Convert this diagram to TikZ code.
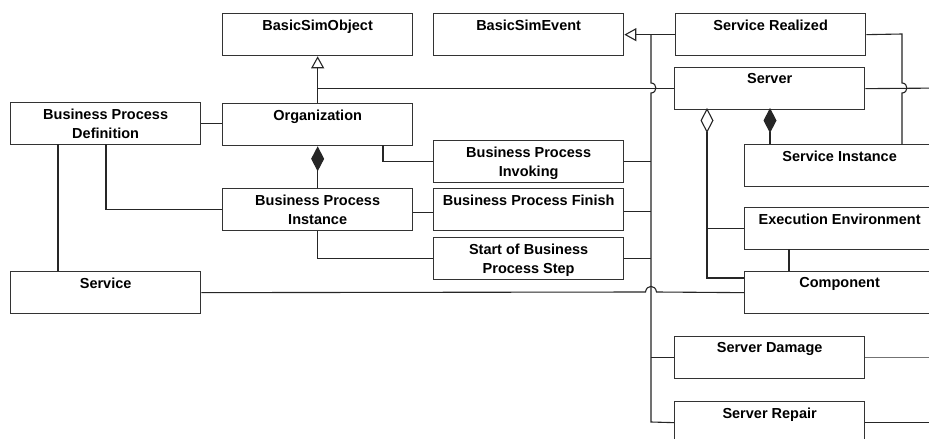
\documentclass[tikz,border=0pt]{standalone}
\usepackage{fontspec}
\setmainfont{Liberation Sans}
\usetikzlibrary{arrows.meta}
\begin{document}
\begin{tikzpicture}[x=1pt,y=-1pt,
 cls/.style={draw=black!80, line width=1.3pt, minimum width=190pt, minimum height=42pt, inner sep=0pt, anchor=north west, fill=white},
 lbl/.style={anchor=north, inner sep=0pt, align=center, font=\bfseries\fontsize{14.5}{19.5}\selectfont},
 conn/.style={draw=black!85, line width=1.1pt},
 gen/.style={conn, -{Triangle[open, length=12pt, width=13pt, fill=white]}},
 comp/.style={conn, {Diamond[length=25pt, width=13pt]}-},
 aggr/.style={conn, {Diamond[open, length=25pt, width=13pt, fill=white]}-}]
\useasboundingbox (0,0) rectangle (929,439);
\clip (0,0) rectangle (929,439);
\fill[white] (0,0) rectangle (929,439);
% classes
\node[cls] (bso) at (222,13) {};
\node[cls] (bse) at (433,13) {};
\node[cls] (sr) at (675,13) {};
\node[cls] (server) at (674,67) {};
\node[cls] (bpd) at (10,102) {};
\node[cls] (org) at (222,103) {};
\node[cls] (bpinv) at (433,140) {};
\node[cls] (si) at (744,144) {};
\node[cls] (bpi) at (222,188) {};
\node[cls] (bpfin) at (433,188) {};
\node[cls] (sbps) at (433,237) {};
\node[cls] (ee) at (744,207) {};
\node[cls] (service) at (10,271) {};
\node[cls] (comp) at (744,271) {};
\node[cls] (sd) at (674,336) {};
\node[cls] (srep) at (674,401) {};
% labels
\node[lbl] (lbso) at ([yshift=-6.5pt]bso.north) {BasicSimObject};
\node[lbl] (lbse) at ([yshift=-6.5pt]bse.north) {BasicSimEvent};
\node[lbl] (lsr) at ([yshift=-6.5pt]sr.north) {Service Realized};
\node[lbl] (lserver) at ([yshift=-6.5pt]server.north) {Server};
\node[lbl] (lbpd) at ([yshift=-6.5pt]bpd.north) {Business Process\\Definition};
\node[lbl] (lorg) at ([yshift=-6.5pt]org.north) {Organization};
\node[lbl] (lbpinv) at ([yshift=-6.5pt]bpinv.north) {Business Process\\Invoking};
\node[lbl] (lsi) at ([yshift=-6.5pt]si.north) {Service Instance};
\node[lbl] (lbpi) at ([yshift=-6.5pt]bpi.north) {Business Process\\Instance};
\node[lbl] (lbpfin) at ([yshift=-6.5pt]bpfin.north) {Business Process Finish};
\node[lbl] (lsbps) at ([yshift=-6.5pt]sbps.north) {Start of Business\\Process Step};
\node[lbl] (lee) at ([yshift=-6.5pt]ee.north) {Execution Environment};
\node[lbl] (lservice) at ([yshift=-6.5pt]service.north) {Service};
\node[lbl] (lcomp) at ([yshift=-6.5pt]comp.north) {Component};
\node[lbl] (lsd) at ([yshift=-6.5pt]sd.north) {Server Damage};
\node[lbl] (lsrep) at ([yshift=-6.5pt]srep.north) {Server Repair};
% helper coordinates
\coordinate (busT) at (651,34);
\coordinate (busB) at (651,422);
\coordinate (srR) at (902,34);
\coordinate (offR1) at (945,88);
\coordinate (orgR) at (383,145);
\coordinate (bpdA) at (106,144);
\coordinate (bpdB) at (58,144);
\coordinate (srvC) at (770,108);
\coordinate (srvA) at (707,108);
\coordinate (compA) at (744,278);
\coordinate (eeB) at (789,249);
% generalization to BasicSimObject
\draw[gen] (org.north) -- (bso.south);
\draw[conn] (server.west) -- (org.north |- server.west);
\draw[conn] (server.east) -- (offR1);
% generalization to BasicSimEvent
\draw[gen] (sr.west) -- (bse.east);
\draw[conn] (busT) -- (651,83) .. controls (657.5,83) and (657.5,93) .. (651,93) -- (busB) -- (srep.west);
\draw[conn] (bpinv.east) -- (bpinv.east -| busT);
\draw[conn] ([yshift=-2pt]bpfin.east) -- ([yshift=-2pt]bpfin.east -| busT);
\draw[conn] (sbps.east) -- (sbps.east -| busT);
\draw[conn] (sd.east -| busT) -- (sd.west);
% Service Realized to Service Instance
\draw[conn] (sr.east) -- (srR) -- (902,83) .. controls (908.5,83) and (908.5,93) .. (902,93) -- (srR |- si.north);
% left part
\draw[conn] (bpd.east) -- (bpd.east -| org.west);
\draw[conn] (bpdA) |- (bpi.west);
\draw[conn] (bpdB) -- (bpdB |- service.north);
\draw[comp] (org.south) -- (bpi.north);
\draw[conn] (orgR) |- (bpinv.west);
\draw[conn] ([yshift=-3pt]bpi.east) -- ([yshift=-3pt]bpfin.west);
\draw[conn] (bpi.south) |- (sbps.west);
% Service to Component with jump
\draw[conn] (service.east) -- (645.5,292) .. controls (646.5,284.5) and (655.5,284.5) .. (656.5,292) -- (comp.west);
% Server relations
\draw[comp] (srvC) -- (srvC |- si.north);
\draw[aggr] (srvA) |- (compA);
\draw[conn] (srvA |- ee.west) -- (ee.west);
\draw[conn] (eeB) -- (eeB |- comp.north);
% lines leaving to the right
\draw[conn, draw=black!55] (sd.east) -- ++(80,0);
\draw[conn] (srep.east) -- ++(80,0);
\end{tikzpicture}
\end{document}
